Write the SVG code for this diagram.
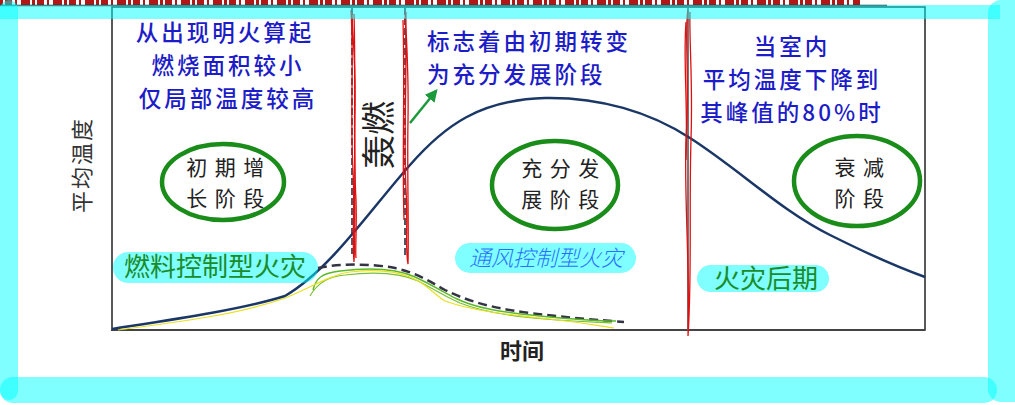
<svg xmlns="http://www.w3.org/2000/svg" width="1015" height="405" viewBox="0 0 1015 405">
<style>
.blue{font-family:"Noto Sans CJK SC","Noto Sans",sans-serif;font-size:22.5px;font-weight:500;fill:#1c1cc8;text-anchor:middle;letter-spacing:3px}
.stage{font-family:"Noto Sans CJK SC",sans-serif;font-size:21px;fill:#222;text-anchor:middle;letter-spacing:7.5px}
.ring{fill:none;stroke:#1a8c1a;stroke-width:4.5}
.pill{fill:#00ffff;opacity:0.5}
.gtext{font-family:"Noto Sans CJK SC",sans-serif;font-size:26px;fill:#1a8c2a;text-anchor:middle}
.band{fill:#00ffff;opacity:0.5}
.red{fill:none;stroke:#e01010;stroke-width:1.3}
</style>
<defs>
<marker id="ah" viewBox="0 0 10 10" refX="8" refY="5" markerWidth="5" markerHeight="5" orient="auto"><path d="M0,0 L10,5 L0,10 z" fill="#1a9a3a"/></marker>
</defs>
<rect width="1015" height="405" fill="#fff"/>
<line x1="0" y1="2.5" x2="860" y2="2.5" stroke="#b01818" stroke-width="5" stroke-dasharray="3 2 7 3 2 4 9 2"/>
<line x1="0" y1="5.5" x2="887" y2="5.5" stroke="#333" stroke-width="1.5"/>
<g id="frame">
<rect x="112" y="7" width="813" height="323" fill="#fff" stroke="#222" stroke-width="1.5"/>
<line x1="111" y1="330" x2="925" y2="330" stroke="#444" stroke-width="2.2"/>
</g>
<g id="axis-labels">
<text transform="translate(90,165) rotate(-90)" font-family="'Noto Sans CJK SC',sans-serif" font-size="22" fill="#333" text-anchor="middle" letter-spacing="2">平均温度</text>
<text x="522" y="359" font-family="'Noto Sans CJK SC',sans-serif" font-size="22" fill="#222" text-anchor="middle" font-weight="bold">时间</text>
</g>
<g id="connectors">
<line x1="352" y1="8" x2="352" y2="254" stroke="#556" stroke-width="2" stroke-dasharray="7 3"/>
<line x1="405" y1="8" x2="405" y2="256" stroke="#556" stroke-width="2" stroke-dasharray="7 3"/>
<line x1="688" y1="8" x2="688" y2="330" stroke="#777" stroke-width="2"/>
<path d="M112,329 C170,320 240,310 285,296 C330,270 370,210 410,165 C445,125 480,100 545,98 C600,97 650,112 690,138 C740,170 780,210 830,235 C870,255 900,268 925,277" fill="none" stroke="#1a3766" stroke-width="2.5"/>
<path d="M318,268 C335,264 370,263 395,268 C420,274 430,282 445,290 C465,300 490,308 530,313 C570,318 600,320 624,322" fill="none" stroke="#334" stroke-width="2.5" stroke-dasharray="9 5"/>
<path d="M313,290 C316,278 322,273 340,271 C365,268 395,268 415,277 C430,284 440,290 455,298 C475,308 500,312 540,316 C580,320 600,321 616,321" fill="none" stroke="#5cb82a" stroke-width="1.4"/>
<path d="M310,296 C318,282 330,276 345,275 C370,272 398,272 418,281 C432,288 442,295 460,303 C480,311 505,316 545,319 C580,322 600,322 612,323" fill="none" stroke="#7ac030" stroke-width="1.2"/>
<path d="M118,330 C180,322 240,314 285,298 C310,288 330,275 350,272 C375,269 400,270 420,282 C432,290 438,297 445,301 C470,310 500,314 550,319 C585,323 600,326 614,328" fill="none" stroke="#e8e020" stroke-width="1.2"/>
<line x1="410" y1="123" x2="436" y2="91" stroke="#1a9a3a" stroke-width="2.5" marker-end="url(#ah)"/>
<path class="red" d="M351,10 C354,60 350,120 353,170 C355,210 352,240 354,262 C356,220 354,160 355,110 C356,60 352,30 352,12"/>
<path class="red" d="M354,14 C356,80 353,150 356,200 C357,230 355,250 356,258"/>
<path class="red" d="M405,10 C408,70 403,130 406,190 C408,225 405,250 408,264 C409,230 407,170 408,120 C409,60 405,30 406,12"/>
<path class="red" d="M403,20 C405,90 402,160 404,220"/>
<path class="red" d="M688,10 C684,30 690,80 686,140 C684,200 690,260 688,336 C692,280 689,200 691,140 C693,80 689,40 690,12"/>
<path class="red" d="M686,22 C683,60 688,100 686,160"/>
</g>
<g id="title-left">
<text class="blue"><tspan x="225" y="41">从出现明火算起</tspan><tspan x="228" y="74">燃烧面积较小</tspan><tspan x="228" y="107">仅局部温度较高</tspan></text>
</g>
<g id="title-mid">
<text class="blue" style="text-anchor:start"><tspan x="427" y="50">标志着由初期转变</tspan><tspan x="427" y="83">为充分发展阶段</tspan></text>
</g>
<g id="title-right">
<text class="blue"><tspan x="792" y="55">当室内</tspan><tspan x="792" y="88">平均温度下降到</tspan><tspan x="792" y="121">其峰值的80%时</tspan></text>
</g>
<g id="flashover">
<text transform="translate(391,135) rotate(-90)" font-family="'Noto Sans CJK SC',sans-serif" font-size="34" fill="#222" text-anchor="middle">轰燃</text>
</g>
<g id="stage-initial">
<ellipse class="ring" cx="223" cy="182" rx="61" ry="38"/>
<text class="stage"><tspan x="229" y="175">初期增</tspan><tspan x="229" y="206">长阶段</tspan></text>
</g>
<g id="stage-full">
<ellipse class="ring" cx="555" cy="185" rx="63" ry="44"/>
<text class="stage"><tspan x="564" y="176">充分发</tspan><tspan x="564" y="207">展阶段</tspan></text>
</g>
<g id="stage-decay">
<ellipse class="ring" cx="857" cy="181" rx="63" ry="45"/>
<text class="stage"><tspan x="863" y="175">衰减</tspan><tspan x="863" y="206">阶段</tspan></text>
</g>
<g id="fuel-controlled">
<rect class="pill" x="113" y="252" width="205" height="31" rx="15.5"/>
<text class="gtext" x="215" y="276">燃料控制型火灾</text>
</g>
<g id="vent-controlled">
<rect class="pill" x="455" y="243" width="181" height="30" rx="15"/>
<text x="546" y="266" font-family="'Noto Sans CJK SC',sans-serif" font-size="22" font-weight="300" fill="#2a70ff" text-anchor="middle" font-style="italic">通风控制型火灾</text>
</g>
<g id="late-stage">
<rect class="pill" x="697" y="265" width="132" height="27" rx="13.5"/>
<text class="gtext" x="766" y="288">火灾后期</text>
</g>
<g id="bands">
<rect class="band" x="0" y="5" width="1000" height="14"/>
<rect class="band" x="0" y="0" width="18" height="400" rx="9"/>
<rect class="band" x="0" y="377" width="997" height="26" rx="13"/>
<rect class="band" x="988" y="0" width="40" height="402" rx="13"/>
</g>
</svg>
